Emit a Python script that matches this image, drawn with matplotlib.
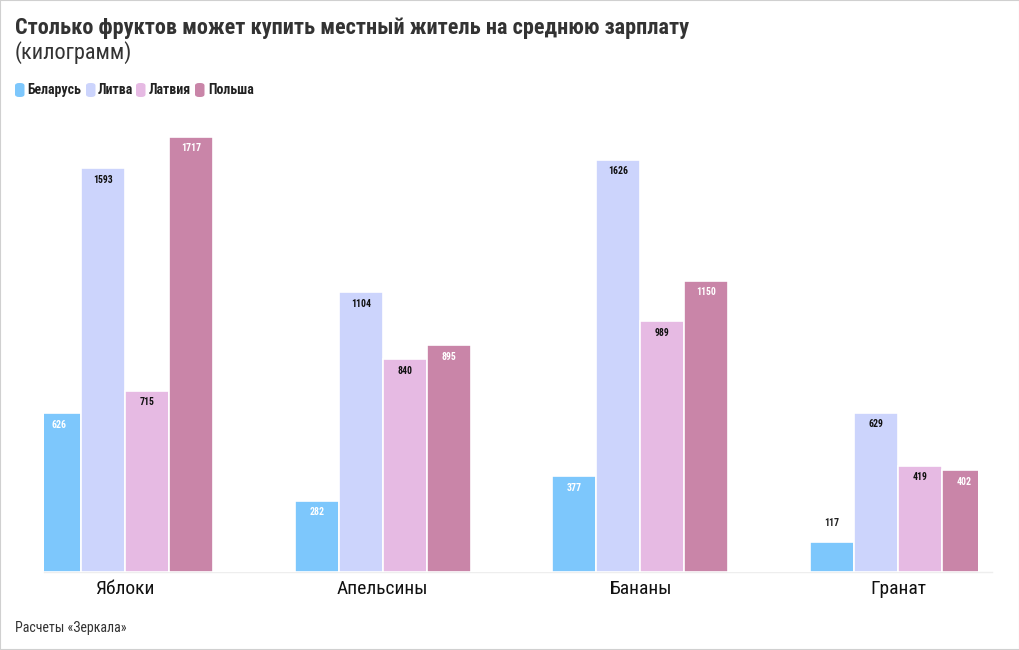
import matplotlib
matplotlib.use("Agg")
import matplotlib.pyplot as plt
from matplotlib.patches import FancyBboxPatch, Rectangle
import numpy as np
from matplotlib import font_manager

fams = ['Roboto Condensed', 'Liberation Sans Narrow', 'DejaVu Sans Condensed', 'Roboto']
avail = {f.name for f in font_manager.fontManager.ttflist}
FAM = [f for f in fams if f in avail] or ['DejaVu Sans']
plt.rcParams['font.family'] = FAM

categories = ["Яблоки", "Апельсины", "Бананы", "Гранат"]
series = ["Беларусь", "Литва", "Латвия", "Польша"]
belarus = [626, 282, 377, 117]
lithuania = [1593, 1104, 1626, 629]
latvia = [715, 840, 989, 419]
poland = [1717, 895, 1150, 402]
values = [belarus, lithuania, latvia, poland]
colors = ["#7dc7fc", "#ccd4fc", "#e6bae3", "#c985a8"]
label_colors = ["white", "#111111", "#111111", "white"]

W, H = 1020, 650
fig = plt.figure(figsize=(W / 100, H / 100), dpi=100)

def fx(px): return px / W
def fy(py): return 1 - py / H

# plot area: x 44..978 px, baseline at y=572px, top at y=120px
ax_left, ax_right = 44, 978
ax_top, ax_base = 120, 572
ax = fig.add_axes([fx(ax_left), fy(ax_base), fx(ax_right - ax_left), (ax_base - ax_top) / H])
a, b = 125.0, 257.7
ax.set_xlim((ax_left - a) / b, (ax_right - a) / b)
ymax = 1717 * (ax_base - ax_top) / (ax_base - 137)
ax.set_ylim(0, ymax)

x = np.arange(len(categories))
bw = 44 / b
for k, (vals, col, lc) in enumerate(zip(values, colors, label_colors)):
    pos = x + (k - 1.5) * bw
    ax.bar(pos, vals, width=bw, color=col, edgecolor="white", linewidth=1.2, zorder=2)
    for xi, v in zip(pos, vals):
        if v < 200:
            ax.text(xi, v + 55, str(v), ha="center", va="bottom", fontsize=7,
                    fontweight="bold", color="#222222", zorder=3)
        else:
            ax.text(xi, v - 45, str(v), ha="center", va="center", fontsize=7,
                    fontweight="bold", color=lc, zorder=3)

fig.add_artist(plt.Line2D([fx(44), fx(992)], [fy(572), fy(572)], color="#eeeeee",
                          linewidth=1, zorder=0))
for s in ax.spines.values():
    s.set_visible(False)
ax.set_yticks([])
ax.set_xticks(x)
ax.set_xticklabels(categories, fontsize=14, color="#111111")
ax.tick_params(axis="x", length=0, pad=6)

# title & subtitle
fig.text(fx(15), fy(28), "Столько фруктов может купить местный житель на среднюю зарплату",
         fontsize=16, fontweight="bold", color="#333333", va="center", ha="left")
fig.text(fx(15), fy(53), "(килограмм)", fontsize=16, color="#333333", va="center", ha="left")

# legend
leg_boxes = [15, 86, 136, 195]
leg_texts = [27, 98, 149, 208]
for name, col, bx, tx in zip(series, colors, leg_boxes, leg_texts):
    p = FancyBboxPatch((fx(bx), fy(97)), fx(9.5), 14 / H,
                       boxstyle="round,pad=0,rounding_size=0.004",
                       transform=fig.transFigure, facecolor=col, edgecolor="none")
    fig.patches.append(p)
    fig.text(fx(tx), fy(90), name, fontsize=10, fontweight="bold", color="#222222",
             va="center", ha="left")

fig.text(fx(15), fy(628), "Расчеты «Зеркала»", fontsize=10, color="#333333",
         va="center", ha="left")

fig.patches.append(Rectangle((0, 0), 1, 1, transform=fig.transFigure, fill=False,
                             edgecolor="#d0d0d0", linewidth=1.5))

fig.savefig("out.png", dpi=100)
